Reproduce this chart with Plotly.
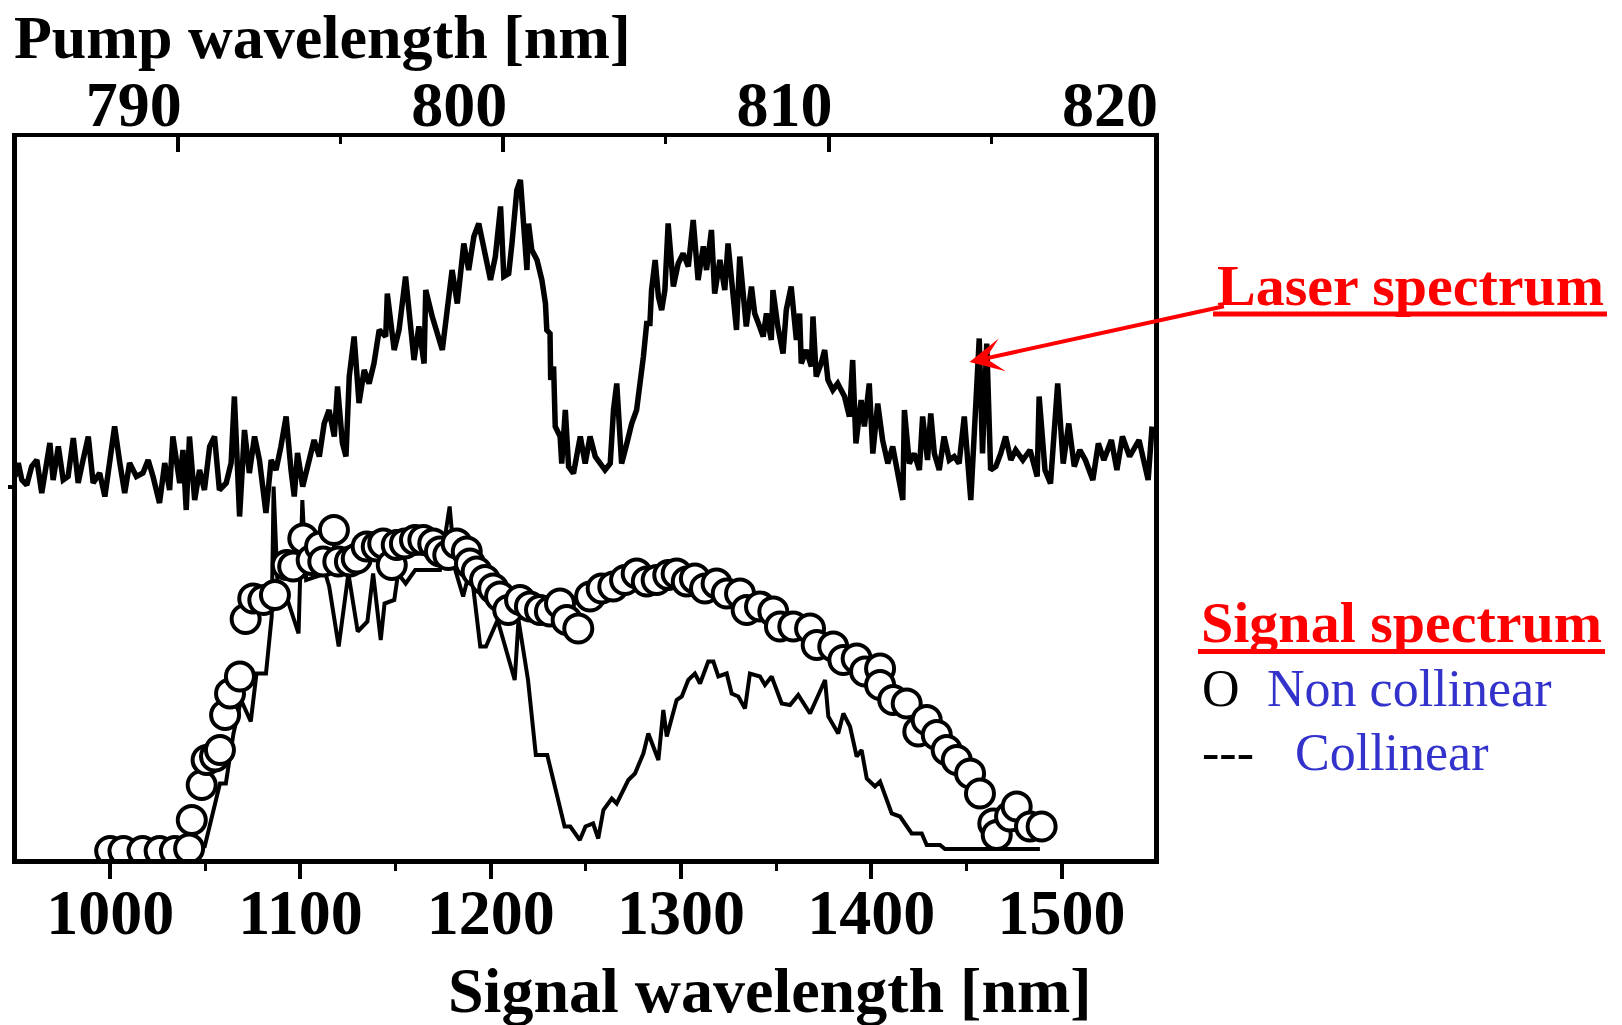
import plotly.graph_objects as go

# ---------------- data ----------------
# Laser (pump) spectrum, plotted against the top (pump wavelength) axis
laser_pump_nm = [
    785.00, 785.10, 785.21, 785.36, 785.51, 785.67, 785.82, 785.97, 786.07, 786.17,
    786.33, 786.48, 786.63, 786.79, 786.94, 787.09, 787.25, 787.40, 787.60, 787.76,
    787.91, 788.06, 788.22, 788.37, 788.52, 788.73, 788.93, 789.09, 789.24, 789.44,
    789.60, 789.75, 789.85, 790.06, 790.16, 790.26, 790.36, 790.52, 790.67, 790.82,
    790.98, 791.13, 791.28, 791.49, 791.64, 791.74, 791.90, 792.05, 792.20, 792.36,
    792.51, 792.71, 792.87, 793.02, 793.17, 793.33, 793.48, 793.58, 793.68, 793.84,
    794.04, 794.19, 794.35, 794.50, 794.65, 794.81, 794.91, 795.06, 795.17, 795.27,
    795.42, 795.57, 795.73, 795.88, 796.03, 796.19, 796.39, 796.44, 796.65, 796.80,
    797.00, 797.26, 797.41, 797.57, 797.62, 797.82, 798.13, 798.28, 798.43, 798.59,
    798.79, 798.94, 799.10, 799.25, 799.40, 799.61, 799.76, 799.92, 800.02, 800.17,
    800.27, 800.42, 800.53, 800.63, 800.73, 800.78, 800.88, 801.04, 801.19, 801.30,
    801.34, 801.44, 801.46, 801.55, 801.60, 801.75, 801.80, 801.91, 802.01, 802.16,
    802.37, 802.52, 802.67, 802.83, 802.98, 803.13, 803.29, 803.39, 803.49, 803.64,
    803.80, 803.95, 804.10, 804.21, 804.31, 804.41, 804.51, 804.56, 804.67, 804.77,
    804.87, 804.97, 805.07, 805.23, 805.38, 805.53, 805.69, 805.84, 805.99, 806.15,
    806.25, 806.40, 806.50, 806.66, 806.81, 806.91, 807.07, 807.17, 807.27, 807.37,
    807.47, 807.63, 807.73, 807.88, 807.99, 808.09, 808.24, 808.29, 808.44, 808.60,
    808.70, 808.85, 809.01, 809.11, 809.16, 809.31, 809.47, 809.52, 809.62, 809.77,
    809.88, 809.98, 810.13, 810.28, 810.49, 810.64, 810.74, 810.84, 811.00, 811.10,
    811.25, 811.36, 811.51, 811.66, 811.82, 811.97, 812.12, 812.28, 812.33, 812.48,
    812.63, 812.79, 812.89, 813.04, 813.14, 813.25, 813.40, 813.55, 813.71, 813.86,
    814.01, 814.17, 814.37, 814.63, 814.73, 814.86, 814.98, 815.14, 815.29, 815.44,
    815.60, 815.75, 815.97, 816.19, 816.41, 816.47, 816.65, 816.82, 817.04, 817.21,
    817.38, 817.55, 817.72, 817.89, 818.12, 818.29, 818.46, 818.69, 818.86, 819.03,
    819.25, 819.54, 819.82, 819.94,
]
laser_intensity = [
    0.745, 0.772, 0.738, 0.728, 0.765, 0.778, 0.712, 0.772, 0.812, 0.738,
    0.805, 0.738, 0.745, 0.822, 0.732, 0.778, 0.825, 0.732, 0.752, 0.705,
    0.772, 0.845, 0.772, 0.712, 0.772, 0.745, 0.752, 0.778, 0.745, 0.692,
    0.772, 0.718, 0.825, 0.732, 0.798, 0.678, 0.825, 0.698, 0.758, 0.718,
    0.805, 0.825, 0.718, 0.732, 0.772, 0.905, 0.665, 0.838, 0.752, 0.825,
    0.778, 0.672, 0.778, 0.758, 0.805, 0.865, 0.758, 0.705, 0.792, 0.725,
    0.778, 0.818, 0.785, 0.851, 0.878, 0.825, 0.925, 0.812, 0.785, 0.945,
    1.025, 0.892, 0.958, 0.931, 0.971, 1.038, 1.025, 1.111, 0.998, 1.038,
    1.145, 0.978, 1.045, 0.971, 1.118, 1.065, 0.998, 1.085, 1.158, 1.091,
    1.211, 1.158, 1.225, 1.251, 1.198, 1.138, 1.185, 1.285, 1.145, 1.151,
    1.211, 1.318, 1.338, 1.225, 1.158, 1.251, 1.198, 1.178, 1.138, 1.091,
    1.038, 1.031, 0.938, 0.965, 0.845, 0.825, 0.771, 0.878, 0.765, 0.751,
    0.825, 0.771, 0.825, 0.785, 0.771, 0.758, 0.771, 0.878, 0.931, 0.771,
    0.811, 0.851, 0.878, 0.925, 0.985, 1.051, 1.051, 1.118, 1.178, 1.105,
    1.078, 1.118, 1.251, 1.125, 1.171, 1.191, 1.165, 1.258, 1.138, 1.205,
    1.158, 1.238, 1.111, 1.178, 1.118, 1.211, 1.105, 1.038, 1.185, 1.105,
    1.045, 1.125, 1.071, 1.045, 1.025, 1.071, 1.018, 1.118, 1.045, 0.991,
    1.078, 1.125, 1.018, 1.071, 0.971, 0.998, 0.965, 1.065, 0.945, 0.971,
    0.998, 0.938, 0.918, 0.931, 0.905, 0.865, 0.978, 0.811, 0.898, 0.845,
    0.931, 0.791, 0.891, 0.818, 0.771, 0.805, 0.758, 0.698, 0.878, 0.771,
    0.791, 0.758, 0.865, 0.778, 0.871, 0.791, 0.758, 0.825, 0.778, 0.785,
    0.771, 0.865, 0.698, 1.021, 0.791, 1.011, 0.758, 0.765, 0.791, 0.825,
    0.778, 0.798, 0.778, 0.798, 0.745, 0.905, 0.758, 0.731, 0.931, 0.771,
    0.851, 0.765, 0.798, 0.778, 0.738, 0.811, 0.778, 0.818, 0.758, 0.825,
    0.785, 0.818, 0.738, 0.845,
]

# Collinear signal spectrum (solid line), bottom axis
collinear_nm = [
    1000.0, 1047.2, 1049.7, 1054.7, 1057.7, 1060.8, 1064.8, 1068.8, 1073.9, 1076.9,
    1081.9, 1084.9, 1085.9, 1087.9, 1090.9, 1099.0, 1101.0, 1103.0, 1113.1, 1115.1,
    1120.1, 1125.2, 1130.1, 1135.2, 1138.2, 1142.2, 1144.2, 1149.3, 1151.3, 1155.3,
    1160.3, 1173.3, 1178.4, 1181.4, 1185.5, 1189.5, 1194.5, 1197.5, 1203.6, 1212.6,
    1214.6, 1219.6, 1223.7, 1229.7, 1238.8, 1241.8, 1246.8, 1249.8, 1253.8, 1256.5,
    1259.2, 1263.6, 1266.2, 1272.3, 1275.8, 1280.2, 1282.8, 1288.1, 1290.7, 1292.5,
    1297.7, 1300.4, 1303.8, 1307.3, 1310.0, 1314.3, 1317.0, 1319.6, 1324.0, 1326.6,
    1330.1, 1333.6, 1336.2, 1341.5, 1344.1, 1347.6, 1352.9, 1357.3, 1361.6, 1367.8,
    1375.7, 1377.4, 1382.6, 1385.3, 1388.8, 1392.3, 1394.9, 1397.6, 1401.9, 1404.6,
    1410.7, 1415.1, 1421.2, 1426.5, 1429.1, 1436.1, 1438.7, 1488.6,
]
collinear_intensity = [
    0.0, 0.0, 0.005, 0.085, 0.131, 0.131, 0.231, 0.298, 0.255, 0.351,
    0.351, 0.465, 0.725, 0.535, 0.525, 0.431, 0.698, 0.538, 0.551, 0.525,
    0.405, 0.551, 0.435, 0.455, 0.551, 0.418, 0.491, 0.498, 0.551, 0.531,
    0.558, 0.558, 0.685, 0.558, 0.505, 0.565, 0.405, 0.405, 0.458, 0.338,
    0.458, 0.338, 0.188, 0.188, 0.045, 0.045, 0.018, 0.045, 0.051, 0.021,
    0.078, 0.101, 0.091, 0.138, 0.151, 0.191, 0.231, 0.178, 0.278, 0.225,
    0.298, 0.305, 0.338, 0.351, 0.331, 0.375, 0.375, 0.345, 0.351, 0.311,
    0.305, 0.281, 0.351, 0.345, 0.328, 0.345, 0.291, 0.288, 0.308, 0.271,
    0.338, 0.265, 0.231, 0.271, 0.245, 0.185, 0.198, 0.141, 0.125, 0.135,
    0.071, 0.065, 0.031, 0.031, 0.008, 0.008, 0.0, 0.0,
]

# Non-collinear signal spectrum (open circles), bottom axis
noncollinear_nm = [
    1000.0, 1007.0, 1017.0, 1026.0, 1034.0, 1041.5, 1042.9, 1048.1, 1050.7, 1055.1,
    1057.7, 1060.4, 1063.0, 1068.2, 1071.2, 1075.2, 1080.5, 1086.6, 1092.8, 1096.2,
    1101.5, 1105.9, 1110.3, 1112.0, 1117.6, 1119.9, 1126.0, 1129.6, 1134.8, 1140.1,
    1143.5, 1148.0, 1150.6, 1154.9, 1160.2, 1164.6, 1169.8, 1173.3, 1177.7, 1182.1,
    1187.4, 1189.1, 1192.6, 1197.0, 1201.3, 1204.9, 1209.2, 1215.4, 1220.6, 1225.9,
    1231.1, 1236.4, 1239.9, 1246.0, 1252.2, 1258.3, 1264.4, 1270.6, 1276.7, 1282.0,
    1287.2, 1293.3, 1297.7, 1303.0, 1307.3, 1312.6, 1318.7, 1324.0, 1331.0, 1334.5,
    1341.5, 1348.5, 1352.0, 1359.0, 1367.8, 1371.3, 1380.0, 1385.3, 1392.3, 1396.7,
    1404.6, 1404.6, 1411.5, 1418.6, 1424.7, 1429.1, 1434.4, 1439.6, 1444.9, 1451.9,
    1457.1, 1464.1, 1465.9, 1472.9, 1476.4, 1483.4, 1489.5,
]
noncollinear_intensity = [
    -0.004, -0.004, -0.004, -0.004, -0.004, 0.001, 0.058, 0.128, 0.178, 0.185,
    0.198, 0.268, 0.311, 0.345, 0.460, 0.501, 0.498, 0.508, 0.568, 0.565,
    0.621, 0.578, 0.605, 0.575, 0.638, 0.575, 0.575, 0.581, 0.605, 0.605,
    0.611, 0.568, 0.608, 0.611, 0.618, 0.618, 0.611, 0.595, 0.588, 0.611,
    0.595, 0.571, 0.555, 0.538, 0.521, 0.505, 0.478, 0.498, 0.485, 0.478,
    0.475, 0.491, 0.458, 0.441, 0.505, 0.521, 0.525, 0.538, 0.551, 0.535,
    0.538, 0.548, 0.551, 0.535, 0.541, 0.521, 0.531, 0.511, 0.511, 0.478,
    0.485, 0.475, 0.445, 0.445, 0.441, 0.408, 0.405, 0.378, 0.381, 0.355,
    0.361, 0.328, 0.298, 0.291, 0.235, 0.258, 0.228, 0.198, 0.178, 0.151,
    0.111, 0.051, 0.028, 0.065, 0.085, 0.045, 0.045,
]

signal_range_nm = [951.05, 1548.55]
pump_range_nm = [785.06, 820.0]
intensity_range = [-0.020, 1.424]
left_tick_value = [0.724]
laser_arrow_tip = (814.33, 0.974)  # pump nm, intensity

SERIF = "Liberation Serif, Times New Roman, serif"
BLUE = "#3333CC"
RED = "#FF0000"

fig = go.Figure()
fig.add_trace(go.Scatter(
    x=laser_pump_nm, y=laser_intensity, xaxis="x2", yaxis="y",
    mode="lines", line=dict(color="black", width=5.5), name="Laser spectrum",
))
fig.add_trace(go.Scatter(
    x=collinear_nm, y=collinear_intensity, mode="lines",
    line=dict(color="black", width=4), name="Collinear",
))
fig.add_trace(go.Scatter(
    x=noncollinear_nm, y=noncollinear_intensity, mode="markers",
    marker=dict(symbol="circle", size=28, color="white",
                line=dict(color="black", width=4)),
    name="Non collinear",
))

tickfont = dict(family=SERIF, size=64, color="black", weight="bold")

fig.update_layout(
    width=1622, height=1025,
    margin=dict(l=17, r=468, t=137, b=166),
    paper_bgcolor="white", plot_bgcolor="white",
    showlegend=False,
    xaxis=dict(
        range=signal_range_nm, tick0=1000, dtick=100,
        ticks="outside", ticklen=15, tickwidth=3.5, tickcolor="black",
        showline=True, linewidth=5, linecolor="black",
        showgrid=False, zeroline=False, tickfont=tickfont,
        ticklabelstandoff=-22,
        minor=dict(tick0=950, dtick=50, ticks="outside", ticklen=7,
                   tickwidth=3, tickcolor="black", showgrid=False),
    ),
    xaxis2=dict(
        overlaying="x", side="top", anchor="y",
        range=pump_range_nm, tick0=790, dtick=10,
        ticks="inside", ticklen=15, tickwidth=3.5, tickcolor="black",
        showline=True, linewidth=4, linecolor="black",
        showgrid=False, zeroline=False, tickfont=tickfont,
        ticklabelshift=-44, ticklabelstandoff=-19,
        minor=dict(tick0=785, dtick=5, ticks="inside", ticklen=7,
                   tickwidth=3, tickcolor="black", showgrid=False),
    ),
    yaxis=dict(
        range=intensity_range, tickvals=left_tick_value, showticklabels=False,
        ticks="outside", ticklen=4, tickwidth=4, tickcolor="black",
        showline=True, linewidth=4.5, linecolor="black", mirror=True,
        showgrid=False, zeroline=False,
    ),
)

annotations = [
    dict(text="Pump wavelength [nm]", xref="paper", yref="paper", x=-0.004, y=1.1385,
         xanchor="left", yanchor="middle", showarrow=False,
         font=dict(family=SERIF, size=62, color="black", weight="bold")),
    dict(text="Signal wavelength [nm]", xref="paper", yref="paper", x=0.6627, y=-0.182,
         xanchor="center", yanchor="middle", showarrow=False,
         font=dict(family=SERIF, size=64, color="black", weight="bold")),
    dict(text="Laser spectrum", xref="paper", yref="paper", x=1.0537, y=0.794,
         xanchor="left", yanchor="middle", showarrow=False,
         font=dict(family=SERIF, size=58, color=RED, weight="bold")),
    dict(text="Signal spectrum", xref="paper", yref="paper", x=1.0396, y=0.328,
         xanchor="left", yanchor="middle", showarrow=False,
         font=dict(family=SERIF, size=58, color=RED, weight="bold")),
    dict(text="O", xref="paper", yref="paper", x=1.0405, y=0.236,
         xanchor="left", yanchor="middle", showarrow=False,
         font=dict(family=SERIF, size=52, color="black")),
    dict(text="Non collinear", xref="paper", yref="paper", x=1.0976, y=0.236,
         xanchor="left", yanchor="middle", showarrow=False,
         font=dict(family=SERIF, size=52, color=BLUE)),
    dict(text="---", xref="paper", yref="paper", x=1.0405, y=0.147,
         xanchor="left", yanchor="middle", showarrow=False,
         font=dict(family=SERIF, size=52, color="black")),
    dict(text="Collinear", xref="paper", yref="paper", x=1.1223, y=0.147,
         xanchor="left", yanchor="middle", showarrow=False,
         font=dict(family=SERIF, size=52, color=BLUE)),
    dict(text="", xref="x2", yref="y", x=laser_arrow_tip[0], y=laser_arrow_tip[1],
         showarrow=True, ax=256, ay=-56, arrowcolor=RED, arrowwidth=4,
         arrowhead=3, arrowsize=1.4, standoff=0),
]
fig.update_layout(annotations=annotations)

fig.add_shape(type="line", xref="paper", yref="paper", x0=1.0519, x1=1.3984,
              y0=0.7548, y1=0.7548, line=dict(color=RED, width=5))
fig.add_shape(type="line", xref="paper", yref="paper", x0=1.0387, x1=1.3967,
              y0=0.2873, y1=0.2873, line=dict(color=RED, width=5))

fig.write_html("out.html")
